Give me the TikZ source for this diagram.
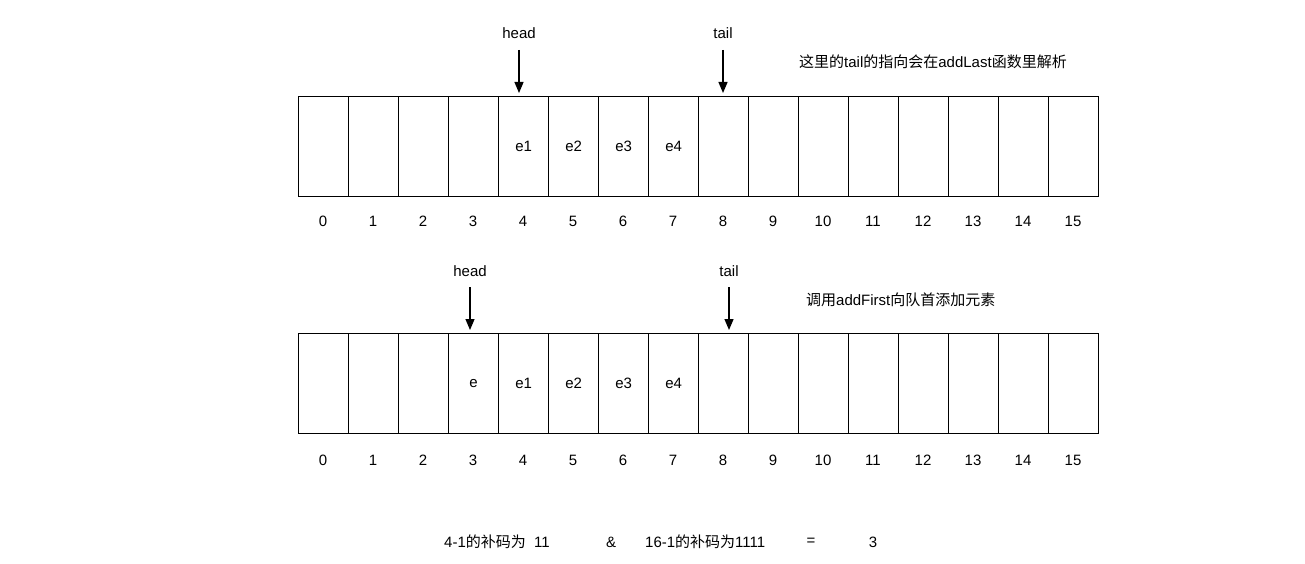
\documentclass[tikz,border=0pt]{standalone}
\usepackage{fontspec}
\setmainfont{Liberation Sans}
\newfontfamily\cjk{Noto Sans CJK SC}
\usetikzlibrary{arrows.meta}
\begin{document}
\begin{tikzpicture}[x=1pt,y=-1pt,
  cell/.style={draw=black,line width=1.2pt,minimum width=50pt,minimum height=100pt,inner sep=0pt,anchor=north west,font=\fontsize{15}{17}\selectfont},
  lbl/.style={inner sep=0pt,font=\fontsize{15}{17}\selectfont},
  ptr/.style={-{Triangle[length=11pt,width=9pt]},line width=1.2pt}]
\useasboundingbox[fill=white] (0,0) rectangle (1305,564);
% top row
\foreach \i/\t in {0/,1/,2/,3/,4/e1,5/e2,6/e3,7/e4,8/,9/,10/,11/,12/,13/,14/,15/}{
  \node[cell] (a\i) at (298+50*\i,96) {\t};
  \node[lbl] (ai\i) at (323+50*\i,221) {\i};
}
% bottom row
\foreach \i/\t in {0/,1/,2/,3/e,4/e1,5/e2,6/e3,7/e4,8/,9/,10/,11/,12/,13/,14/,15/}{
  \node[cell] (b\i) at (298+50*\i,333) {\t};
  \node[lbl] (bi\i) at (323+50*\i,460) {\i};
}
% top pointers
\node[lbl] (h1) at (519,33) {head};
\node[lbl] (t1) at (723,33) {tail};
\coordinate (h1s) at (519,50);
\coordinate (h1e) at (519,93);
\coordinate (t1s) at (723,50);
\coordinate (t1e) at (723,93);
\draw[ptr] (h1s) -- (h1e);
\draw[ptr] (t1s) -- (t1e);
\node[lbl,anchor=west] (n1) at (799,62) {{\cjk 这里的}tail{\cjk 的指向会在}addLast{\cjk 函数里解析}};
% bottom pointers
\node[lbl] (h2) at (470,271) {head};
\node[lbl] (t2) at (729,271) {tail};
\coordinate (h2s) at (470,287);
\coordinate (h2e) at (470,330);
\coordinate (t2s) at (729,287);
\coordinate (t2e) at (729,330);
\draw[ptr] (h2s) -- (h2e);
\draw[ptr] (t2s) -- (t2e);
\node[lbl,anchor=west] (n2) at (806,300) {{\cjk 调用}addFirst{\cjk 向队首添加元素}};
% formula
\node[lbl,anchor=west] (f1) at (444,542) {4-1{\cjk 的补码为}\ \ 11};
\node[lbl] (f2) at (611,542) {\&};
\node[lbl,anchor=west] (f3) at (645,542) {16-1{\cjk 的补码为}1111};
\node[lbl] (f4) at (811,542) {=};
\node[lbl] (f5) at (873,542) {3};
\end{tikzpicture}
\end{document}
